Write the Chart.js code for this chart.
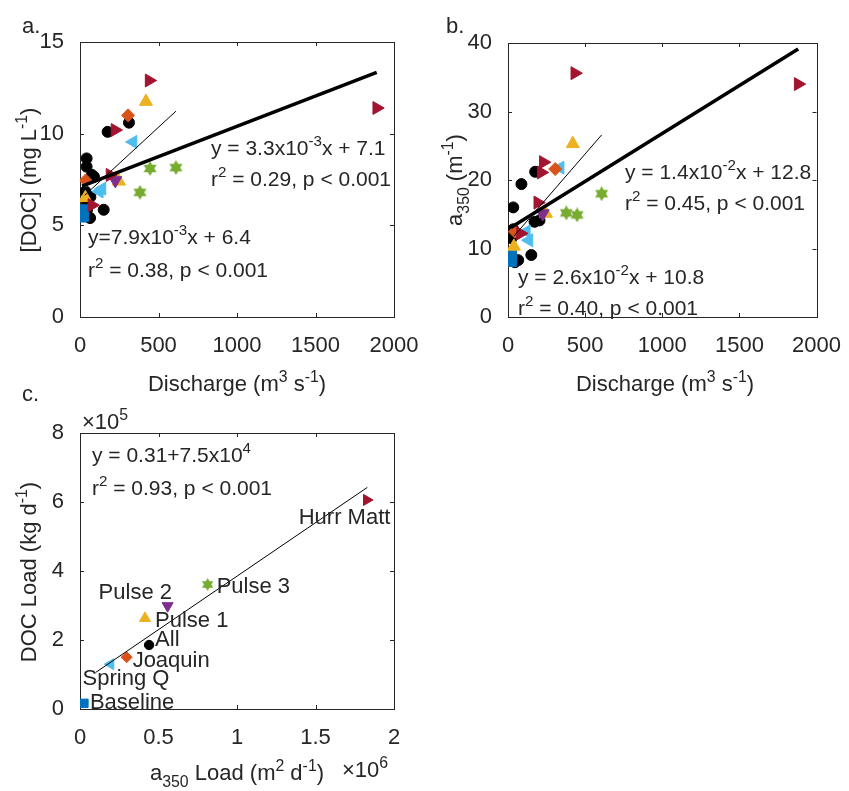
<!DOCTYPE html>
<html>
<head>
<meta charset="utf-8">
<script src="https://cdn.jsdelivr.net/npm/chart.js@4.4.0/dist/chart.umd.min.js"></script>
<style>
  body { margin: 0; background: #fff; }
  #fig { position: relative; width: 849px; height: 791px; }
  #fig canvas { position: absolute; left: 0; top: 0; }
</style>
</head>
<body>
<div id="fig">
  <canvas id="panelA" width="849" height="791"></canvas>
  <canvas id="panelB" width="849" height="791"></canvas>
  <canvas id="panelC" width="849" height="791"></canvas>
</div>
<script>
// discharge (m3 s-1) vs [DOC] (mg L-1), one list per sampling period
var docAll = [[176, 10.1], [312, 10.6], [42, 8.65], [42, 8.2], [89, 7.65], [76, 7.75], [34, 6.85],
              [66, 6.55], [45, 6.2], [45, 5.85], [151, 5.85], [55, 5.45], [64, 5.4]];
var docBaseline = [[13, 5.45], [23, 5.85], [25, 5.5]];
var docSpringQ = [[123, 6.85], [140, 7.0], [338, 9.55]];
var docJoaquin = [[36, 7.45], [306, 11.0]];
var docPulse1 = [[34, 6.5], [248, 7.4], [420, 11.75]];
var docPulse2 = [[225, 7.45]];
var docPulse3 = [[382, 6.8], [446, 8.1], [611, 8.15]];
var docHurrMatt = [[76, 6.1], [191, 7.75], [223, 10.2], [440, 12.9], [1890, 11.4]];

// discharge vs a350 (m-1)
var a350All = [[176, 21.2], [87, 19.4], [34, 16.0], [172, 13.9], [204, 14.1], [34, 12.8],
               [23, 11.5], [66, 8.3], [151, 9.05], [45, 8.0]];
var a350Baseline = [[24, 9.0], [24, 8.1]];
var a350SpringQ = [[119, 12.5], [136, 11.2], [338, 21.8]];
var a350Joaquin = [[45, 12.45], [306, 21.6]];
var a350Pulse1 = [[38, 10.3], [246, 15.1], [420, 25.3]];
var a350Pulse2 = [[225, 15.1]];
var a350Pulse3 = [[378, 15.2], [448, 14.9], [607, 18.0]];
var a350HurrMatt = [[81, 12.2], [193, 16.7], [215, 21.1], [229, 22.6], [433, 35.6], [1881, 34.0]];

// regression lines: y = slope*x + intercept, drawn over [from, to]
var docFitSlope = [3.3e-3, 7.9e-3];
var docFitIntercept = [7.1, 6.4];
var docFitRange = [[13, 1890], [30, 611]];
var a350FitSlope = [1.4e-2, 2.6e-2];
var a350FitIntercept = [12.8, 10.8];
var a350FitRange = [[19, 1881], [40, 607]];

// loads per period: a350 load (x10^6 m2 d-1), DOC load (x10^5 kg d-1)
var loadNames = ['Baseline', 'Spring Q', 'Joaquin', 'All', 'Pulse 1', 'Pulse 2', 'Pulse 3', 'Hurr Matt'];
var loadA350 = [0.025, 0.195, 0.297, 0.44, 0.414, 0.558, 0.813, 1.826];
var loadDOC = [0.165, 1.3, 1.5, 1.855, 2.63, 2.99, 3.61, 6.06];
var loadFitSlope = 0.31;
var loadFitIntercept = 7.5e4;
var loadFitRange = [0.1, 1.83];

var xTicksQ = [0, 500, 1000, 1500, 2000];
var yTicksDOC = [0, 5, 10, 15];
var yTicksA350 = [0, 10, 20, 30, 40];
var xTicksLoad = [0, 0.5, 1, 1.5, 2];
var yTicksLoad = [0, 2, 4, 6, 8];

var FONT = '"Liberation Sans", Arial, sans-serif';
var INK = '#262626';
var W = 849, H = 791;

var colors = {
  all: '#000000', baseline: '#0072BD', springQ: '#4DBEEE', joaquin: '#D95319',
  pulse1: '#EDB120', pulse2: '#7E2F8E', pulse3: '#77AC30', hurrMatt: '#A2142F'
};

// filled six-pointed star, like matlab's hexagram marker
function hexagram(size, color) {
  var c = document.createElement('canvas');
  c.width = c.height = size;
  var g = c.getContext('2d');
  var r = size / 2;
  g.fillStyle = color;
  g.beginPath();
  for (var i = 0; i < 12; i++) {
    var rr = i % 2 === 0 ? r : r * 0.577;
    var ang = -Math.PI / 2 + i * Math.PI / 6;
    var px = r + rr * Math.cos(ang), py = r + rr * Math.sin(ang);
    if (i === 0) g.moveTo(px, py); else g.lineTo(px, py);
  }
  g.closePath();
  g.fill();
  return c;
}

// marker styles: [pointStyle, rotation, radius]
function markers(big) {
  var k = big ? 1 : 0.85;
  return {
    all: ['circle', 0, 5.5 * k],
    baseline: ['rect', 0, 7 * k],
    springQ: ['triangle', -90, 7.5 * k],
    joaquin: ['rectRot', 0, 6.5 * k],
    pulse1: ['triangle', 0, 7.5 * k],
    pulse2: ['triangle', 180, 7.5 * k],
    pulse3: [hexagram(Math.round(15 * k), colors.pulse3), 0, 7 * k],
    hurrMatt: ['triangle', 90, 7.5 * k]
  };
}

function scatterSet(key, data, big) {
  var m = markers(big)[key];
  return {
    data: data,
    pointStyle: m[0],
    rotation: m[1],
    pointRadius: m[2],
    backgroundColor: colors[key],
    borderColor: colors[key],
    borderWidth: 1
  };
}

function fitSet(slope, intercept, range, width) {
  return {
    data: [[range[0], slope * range[0] + intercept], [range[1], slope * range[1] + intercept]],
    showLine: true,
    pointRadius: 0,
    borderColor: '#000',
    borderWidth: width
  };
}

// "x^{sup}" and "x_{sub}" markup -> list of [text, mode]
function parseRich(s) {
  var parts = [], re = /([\^_])\{([^}]*)\}/g, last = 0, m;
  while ((m = re.exec(s)) !== null) {
    if (m.index > last) parts.push([s.slice(last, m.index), '']);
    parts.push([m[2], m[1] === '^' ? 'sup' : 'sub']);
    last = re.lastIndex;
  }
  if (last < s.length) parts.push([s.slice(last), '']);
  return parts;
}

function drawRich(ctx, str, x, y, size, align) {
  var parts = parseRich(str);
  var widths = parts.map(function (p) {
    ctx.font = (p[1] ? size * 0.72 : size) + 'px ' + FONT;
    return ctx.measureText(p[0]).width;
  });
  var total = widths.reduce(function (a, b) { return a + b; }, 0);
  var cx = align === 'center' ? x - total / 2 : align === 'right' ? x - total : x;
  ctx.textAlign = 'left';
  ctx.textBaseline = 'alphabetic';
  parts.forEach(function (p, i) {
    ctx.font = (p[1] ? size * 0.72 : size) + 'px ' + FONT;
    var dy = p[1] === 'sup' ? -size * 0.42 : p[1] === 'sub' ? size * 0.3 : 0;
    ctx.fillText(p[0], cx, y + dy);
    cx += widths[i];
  });
}

// box with inward ticks on all four sides, plus the panel's text
function framePlugin(notes) {
  return {
    id: 'frame',
    beforeDatasetsDraw: function (chart) {
      var ctx = chart.ctx, a = chart.chartArea;
      var xs = chart.scales.x, ys = chart.scales.y;
      ctx.save();
      ctx.strokeStyle = INK;
      ctx.lineWidth = 1;
      ctx.strokeRect(Math.round(a.left) + 0.5, Math.round(a.top) + 0.5,
                     Math.round(a.right - a.left), Math.round(a.bottom - a.top));
      ctx.beginPath();
      xs.ticks.forEach(function (t) {
        var px = Math.round(xs.getPixelForValue(t.value)) + 0.5;
        ctx.moveTo(px, a.bottom); ctx.lineTo(px, a.bottom - 4);
        ctx.moveTo(px, a.top); ctx.lineTo(px, a.top + 4);
      });
      ys.ticks.forEach(function (t) {
        var py = Math.round(ys.getPixelForValue(t.value)) + 0.5;
        ctx.moveTo(a.left, py); ctx.lineTo(a.left + 4, py);
        ctx.moveTo(a.right, py); ctx.lineTo(a.right - 4, py);
      });
      ctx.stroke();
      ctx.restore();
    },
    afterDatasetsDraw: function (chart) {
      var ctx = chart.ctx;
      ctx.save();
      ctx.fillStyle = INK;
      notes.forEach(function (n) {
        var x = n.x, y = n.y;
        if (n.at) {
          x = chart.scales.x.getPixelForValue(n.at[0]) + n.dx;
          y = chart.scales.y.getPixelForValue(n.at[1]) + n.dy;
        }
        if (n.rotate) {
          ctx.save();
          ctx.translate(x, y);
          ctx.rotate(-Math.PI / 2);
          drawRich(ctx, n.text, 0, 0, n.size || 22, 'center');
          ctx.restore();
        } else {
          drawRich(ctx, n.text, x, y, n.size || 22, n.align || 'left');
        }
      });
      ctx.restore();
    }
  };
}

function tickLabel(v) { return String(+v.toFixed(3)); }

function makePanel(id, datasets, area, xTicks, yTicks, notes) {
  return new Chart(document.getElementById(id), {
    type: 'scatter',
    data: { datasets: datasets },
    options: {
      responsive: false,
      animation: false,
      events: [],
      layout: { padding: { left: 0, top: area.top, right: W - area.right, bottom: 0 } },
      plugins: { legend: { display: false }, tooltip: { enabled: false } },
      scales: {
        x: {
          type: 'linear',
          min: xTicks[0], max: xTicks[xTicks.length - 1],
          afterBuildTicks: function (s) { s.ticks = xTicks.map(function (v) { return { value: v }; }); },
          afterFit: function (s) { s.height = H - area.bottom; },
          grid: { display: false },
          border: { display: false },
          ticks: { callback: tickLabel, font: { family: FONT, size: 22 }, color: INK, padding: 8, maxRotation: 0 }
        },
        y: {
          type: 'linear',
          min: yTicks[0], max: yTicks[yTicks.length - 1],
          afterBuildTicks: function (s) { s.ticks = yTicks.map(function (v) { return { value: v }; }); },
          afterFit: function (s) { s.width = area.left; },
          grid: { display: false },
          border: { display: false },
          ticks: { callback: tickLabel, font: { family: FONT, size: 22 }, color: INK, padding: 8 }
        }
      }
    },
    plugins: [framePlugin(notes)]
  });
}

function eventSets(big, all, baseline, springQ, joaquin, pulse1, pulse2, pulse3, hurrMatt) {
  return [
    scatterSet('hurrMatt', hurrMatt, big),
    scatterSet('pulse3', pulse3, big),
    scatterSet('pulse2', pulse2, big),
    scatterSet('pulse1', pulse1, big),
    scatterSet('joaquin', joaquin, big),
    scatterSet('springQ', springQ, big),
    scatterSet('baseline', baseline, big),
    scatterSet('all', all, big)
  ];
}

// a. [DOC] vs discharge
makePanel('panelA',
  [fitSet(docFitSlope[0], docFitIntercept[0], docFitRange[0], 3.5),
   fitSet(docFitSlope[1], docFitIntercept[1], docFitRange[1], 1)]
    .concat(eventSets(true, docAll, docBaseline, docSpringQ, docJoaquin, docPulse1, docPulse2, docPulse3, docHurrMatt)),
  { left: 80, top: 42, right: 394, bottom: 317 },
  xTicksQ, yTicksDOC,
  [
    { text: 'a.', x: 22, y: 33 },
    { text: 'y = 3.3x10^{-3}x + 7.1', x: 211, y: 155, size: 21 },
    { text: 'r^{2} = 0.29, p < 0.001', x: 211, y: 186, size: 21 },
    { text: 'y=7.9x10^{-3}x + 6.4', x: 88, y: 244, size: 21 },
    { text: 'r^{2} = 0.38, p < 0.001', x: 88, y: 277, size: 21 },
    { text: 'Discharge (m^{3} s^{-1})', x: 237, y: 391, align: 'center' },
    { text: '[DOC] (mg L^{-1})', x: 36, y: 180, rotate: true }
  ]);

// b. a350 vs discharge
makePanel('panelB',
  [fitSet(a350FitSlope[0], a350FitIntercept[0], a350FitRange[0], 3.5),
   fitSet(a350FitSlope[1], a350FitIntercept[1], a350FitRange[1], 1)]
    .concat(eventSets(true, a350All, a350Baseline, a350SpringQ, a350Joaquin, a350Pulse1, a350Pulse2, a350Pulse3, a350HurrMatt)),
  { left: 508, top: 43, right: 822, bottom: 317 },
  xTicksQ, yTicksA350,
  [
    { text: 'b.', x: 446, y: 33 },
    { text: 'y = 1.4x10^{-2}x + 12.8', x: 625, y: 179, size: 21 },
    { text: 'r^{2} = 0.45, p < 0.001', x: 625, y: 210, size: 21 },
    { text: 'y = 2.6x10^{-2}x + 10.8', x: 518, y: 284, size: 21 },
    { text: 'r^{2} = 0.40, p < 0.001', x: 518, y: 315, size: 21 },
    { text: 'Discharge (m^{3} s^{-1})', x: 665, y: 391, align: 'center' },
    { text: 'a_{350} (m^{-1})', x: 462, y: 180, rotate: true }
  ]);

// c. DOC load vs a350 load, one point per period
var loadKeys = ['baseline', 'springQ', 'joaquin', 'all', 'pulse1', 'pulse2', 'pulse3', 'hurrMatt'];
var loadSets = loadNames.map(function (name, i) {
  return scatterSet(loadKeys[i], [[loadA350[i], loadDOC[i]]], false);
}).reverse();
var loadLine = fitSet(loadFitSlope * 1e6 / 1e5, loadFitIntercept / 1e5, loadFitRange, 1);
// label offsets (px) from each marker
var labelDx = [6, -28, 6, 6, 10, -69, 9, -68];
var labelDy = [6, 21, 10, 1, 9, -7, 9, 24];

makePanel('panelC',
  [loadLine].concat(loadSets),
  { left: 80, top: 433, right: 394, bottom: 709 },
  xTicksLoad, yTicksLoad,
  [
    { text: 'c.', x: 22, y: 401 },
    { text: '\u00d710^{5}', x: 82, y: 429 },
    { text: 'y = 0.31+7.5x10^{4}', x: 92, y: 462, size: 21 },
    { text: 'r^{2} = 0.93, p < 0.001', x: 92, y: 495, size: 21 },
    { text: 'a_{350} Load (m^{2} d^{-1})', x: 237, y: 780, align: 'center' },
    { text: '\u00d710^{6}', x: 342, y: 777 },
    { text: 'DOC Load (kg d^{-1})', x: 36, y: 572, rotate: true }
  ].concat(loadNames.map(function (name, i) {
    return { text: name, at: [loadA350[i], loadDOC[i]], dx: labelDx[i], dy: labelDy[i] };
  })));
</script>
</body>
</html>
